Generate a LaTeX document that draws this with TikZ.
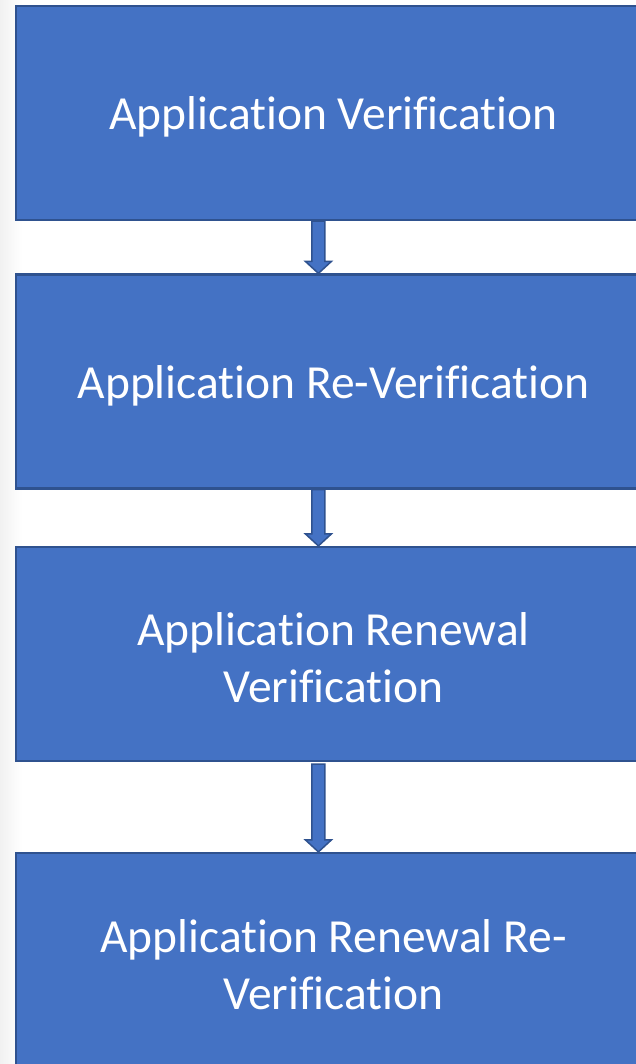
\documentclass[tikz,border=0pt]{standalone}
\usepackage{fontspec}
\setmainfont{Carlito}
\usetikzlibrary{calc}
\newcommand\nlg{\kern0pt\relax}
\definecolor{boxfill}{HTML}{4472C4}
\definecolor{boxline}{HTML}{2F528F}
\definecolor{shadegray}{HTML}{F1F1F1}
\tikzset{
  stagebox/.style={draw=boxline, line width=2.2pt, fill=boxfill, minimum width=635pt, minimum height=214pt,
    inner sep=0pt, text=white, align=center, font=\fontsize{47.5}{57}\selectfont},
  blockarrow/.style={draw=boxline, line width=1.5pt, fill=boxfill, line join=miter}
}
\newcommand\barrow[2]{%
  \path[blockarrow] ($(#1)+(-6.5,0)$) -- ($(#2)+(-6.5,-12)$) -- ($(#2)+(-13,-12)$) -- (#2)
    -- ($(#2)+(13,-12)$) -- ($(#2)+(6.5,-12)$) -- ($(#1)+(6.5,0)$) -- cycle;}
\begin{document}
\begin{tikzpicture}[x=1pt,y=-1pt]
\useasboundingbox (0,0) rectangle (636,1064);
\clip (0,0) rectangle (636,1064);
\fill[white] (0,0) rectangle (636,1064);
\shade[left color=shadegray, right color=white] (0,0) rectangle (22,1064);
\node[stagebox] (b1) at (333.5,113) {};
\node[stagebox] (b2) at (333.5,381.5) {};
\node[stagebox] (b3) at (333.5,654) {};
\node[stagebox] (b4) at (333.5,960) {};
\node[stagebox, draw=none, fill=none] (t1) at ($(b1)+(0,4)$) {Applicat\nlg ion Verif\nlg icat\nlg ion};
\node[stagebox, draw=none, fill=none] (t2) at ($(b2)+(0,4)$) {Applicat\nlg ion Re-Verif\nlg icat\nlg ion};
\node[stagebox, draw=none, fill=none] (t3) at ($(b3)+(0,4)$) {Applicat\nlg ion Renewal\\Verif\nlg icat\nlg ion};
\node[stagebox, draw=none, fill=none] (t4) at ($(b4)+(0,5)$) {Applicat\nlg ion Renewal Re-\\Verif\nlg icat\nlg ion};
\coordinate (a1s) at ($(b1.south west)+(303.5,0)$);
\coordinate (a1e) at ($(b2.north west)+(303.5,0)$);
\coordinate (a2s) at ($(b2.south west)+(303.5,0)$);
\coordinate (a2e) at ($(b3.north west)+(303.5,0)$);
\coordinate (a3s) at ($(b3.south west)+(303.5,2)$);
\coordinate (a3e) at ($(b4.north west)+(303.5,0)$);
\barrow{a1s}{a1e}
\barrow{a2s}{a2e}
\barrow{a3s}{a3e}
\end{tikzpicture}
\end{document}
